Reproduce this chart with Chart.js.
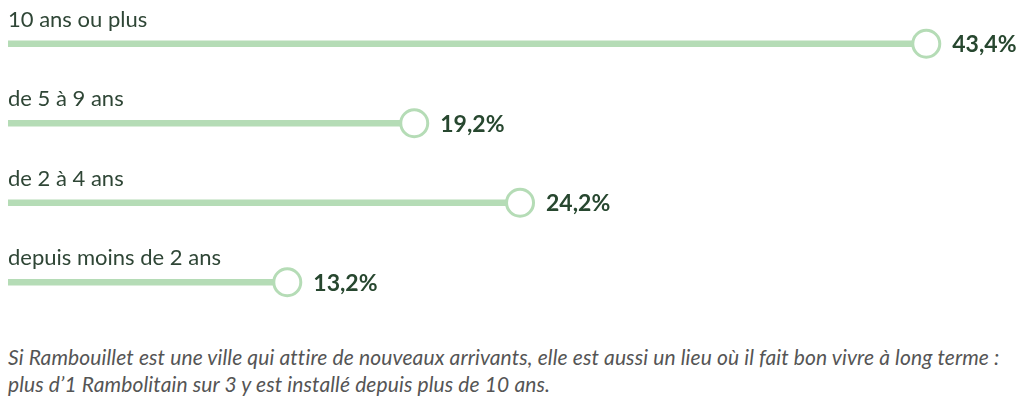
<!DOCTYPE html>
<html>
<head>
<meta charset="utf-8">
<script src="https://cdn.jsdelivr.net/npm/chart.js@4/dist/chart.umd.min.js"></script>
<style>
  html,body{margin:0;padding:0;background:#fff;width:1024px;height:402px;overflow:hidden;}
  #wrap{position:absolute;left:0;top:0;width:1024px;height:326px;}
  #caption{position:absolute;left:8px;top:343px;width:1016px;font-family:Lato,"Open Sans",sans-serif;font-style:italic;font-size:21px;letter-spacing:0.12px;line-height:27px;color:#555;white-space:nowrap;}
</style>
</head>
<body>
<div id="wrap"><canvas id="c"></canvas></div>
<div id="caption">Si Rambouillet est une ville qui attire de nouveaux arrivants, elle est aussi un lieu où il fait bon vivre à long terme :<br>plus d’1 Rambolitain sur 3 y est installé depuis plus de 10 ans.</div>
<script>
const categories = ["10 ans ou plus", "de 5 à 9 ans", "de 2 à 4 ans", "depuis moins de 2 ans"];
const values = [43.4, 19.2, 24.2, 13.2];
const valueLabels = ["43,4%", "19,2%", "24,2%", "13,2%"];

const GREEN = "#b5dcb6";
const TEXT = "#2f4636";
const VALTEXT = "#27472f";

const labelPlugin = {
  id: "lollipopLabels",
  afterDatasetsDraw(chart) {
    const ctx = chart.ctx;
    const xs = chart.scales.x, ys = chart.scales.y;
    ctx.save();
    categories.forEach((cat, i) => {
      const y = ys.getPixelForValue(i);
      const x0 = xs.getPixelForValue(0);
      ctx.fillStyle = TEXT;
      ctx.font = "22px Lato, 'Open Sans', sans-serif";
      ctx.textAlign = "left";
      ctx.textBaseline = "alphabetic";
      ctx.fillText(cat, x0, y - 17);
      const xv = xs.getPixelForValue(values[i]);
      ctx.fillStyle = VALTEXT;
      ctx.font = "bold 23px Lato, 'Open Sans', sans-serif";
      ctx.textBaseline = "middle";
      ctx.fillText(valueLabels[i], xv + 26, y + 1);
    });
    ctx.restore();
  }
};

new Chart(document.getElementById("c"), {
  data: {
    labels: categories,
    datasets: [
      {
        type: "line",
        data: values,
        showLine: false,
        pointRadius: 13.5,
        pointBorderWidth: 3,
        pointBackgroundColor: "#ffffff",
        pointBorderColor: GREEN,
        order: 0
      },
      {
        type: "bar",
        data: values,
        backgroundColor: GREEN,
        barThickness: 6,
        order: 1
      }
    ]
  },
  options: {
    indexAxis: "y",
    responsive: true,
    maintainAspectRatio: false,
    animation: false,
    events: [],
    layout: { autoPadding: false, padding: { left: 8, right: 66, top: 4, bottom: 4 } },
    plugins: { legend: { display: false }, tooltip: { enabled: false } },
    scales: {
      x: { type: "linear", min: 0, max: 44.9, display: false },
      y: { type: "category", display: false, offset: true }
    }
  },
  plugins: [labelPlugin]
});
</script>
</body>
</html>
